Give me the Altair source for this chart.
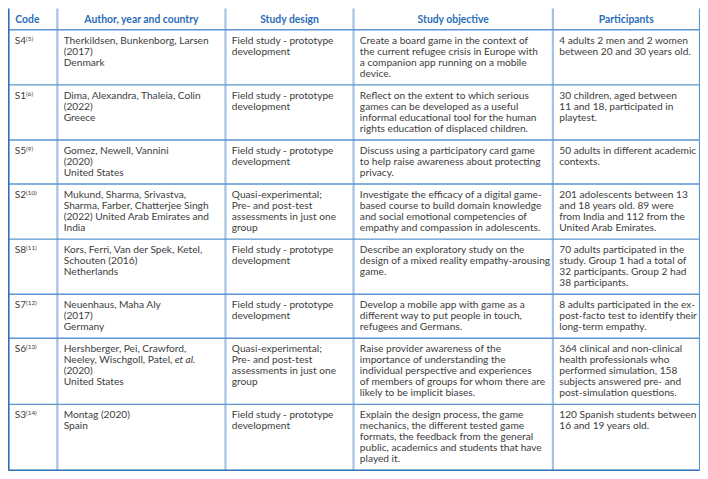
import altair as alt
import pandas as pd

# ---------------- data ----------------
headers = ["Code", "Author, year and country", "Study design", "Study objective", "Participants"]
codes = ["S4", "S1", "S5", "S2", "S8", "S7", "S6", "S3"]
refs = ["(5)", "(6)", "(9)", "(10)", "(11)", "(12)", "(13)", "(14)"]
authors = [
    ["Therkildsen, Bunkenborg, Larsen", "(2017)", "Denmark"],
    ["Dima, Alexandra, Thaleia, Colin", "(2022)", "Greece"],
    ["Gomez, Newell, Vannini", "(2020)", "United States"],
    ["Mukund, Sharma, Srivastva,", "Sharma, Farber, Chatterjee Singh", "(2022) United Arab Emirates and", "India"],
    ["Kors, Ferri, Van der Spek, Ketel,", "Schouten (2016)", "Netherlands"],
    ["Neuenhaus, Maha Aly", "(2017)", "Germany"],
    ["Hershberger, Pei, Crawford,", "Neeley, Wischgoll, Patel,", "(2020)", "United States"],
    ["Montag (2020)", "Spain"],
]
italic_notes = [(6, 1, "et al.")]  # (row, line, text)
field = ["Field study - prototype", "development"]
quasi = ["Quasi-experimental;", "Pre- and post-test", "assessments in just one", "group"]
designs = [field, field, field, quasi, field, field, quasi, field]
objectives = [
    ["Create a board game in the context of", "the current refugee crisis in Europe with", "a companion app running on a mobile", "device."],
    ["Reflect on the extent to which serious", "games can be developed as a useful", "informal educational tool for the human", "rights education of displaced children."],
    ["Discuss using a participatory card game", "to help raise awareness about protecting", "privacy."],
    ["Investigate the efficacy of a digital game-", "based course to build domain knowledge", "and social emotional competencies of", "empathy and compassion in adolescents."],
    ["Describe an exploratory study on the", "design of a mixed reality empathy-arousing", "game."],
    ["Develop a mobile app with game as a", "different way to put people in touch,", "refugees and Germans."],
    ["Raise provider awareness of the", "importance of understanding the", "individual perspective and experiences", "of members of groups for whom there are", "likely to be implicit biases."],
    ["Explain the design process, the game", "mechanics, the different tested game", "formats, the feedback from the general", "public, academics and students that have", "played it."],
]
participants = [
    ["4 adults 2 men and 2 women", "between 20 and 30 years old."],
    ["30 children, aged between", "11 and 18, participated in", "playtest."],
    ["50 adults in different academic", "contexts."],
    ["201 adolescents between 13", "and 18 years old. 89 were", "from India and 112 from the", "United Arab Emirates."],
    ["70 adults participated in the", "study. Group 1 had a total of", "32 participants. Group 2 had", "38 participants."],
    ["8 adults participated in the ex-", "post-facto test to identify their", "long-term empathy."],
    ["364 clinical and non-clinical", "health professionals who", "performed simulation, 158", "subjects answered pre- and", "post-simulation questions."],
    ["120 Spanish students between", "16 and 19 years old."],
]

# ---------------- layout ----------------
W_REF, H_REF = 708, 479
col_edges = [0, 50, 222, 353, 557, 707]
PAD = 6.5
HEADER_H = 22
LH = 11.4
scale_f = 692 / 708
FS = 10.4 * scale_f
FONT = "Lato"
TEXT_C = "#3d3d3d"
HEAD_C = "#2a6db8"

cells = [[[c] for c in codes], authors, designs, objectives, participants]
row_lines = [max(len(cells[c][r]) for c in range(5)) for r in range(len(codes))]
row_tops = [HEADER_H]
for n in row_lines:
    row_tops.append(row_tops[-1] + (n + 1) * LH)

text_rows = []
for c in range(5):
    for r in range(len(codes)):
        for k, line in enumerate(cells[c][r]):
            text_rows.append({"x": col_edges[c] + PAD, "y": row_tops[r] + LH * (k + 1), "t": line})
body = pd.DataFrame(text_rows)

head = pd.DataFrame([
    {"x": (col_edges[c] + col_edges[c + 1]) / 2 if c > 0 else col_edges[0] + PAD + 0.5,
     "y": HEADER_H / 2 + 0.5, "t": h, "a": "center" if c > 0 else "left"}
    for c, h in enumerate(headers)
])

sup = pd.DataFrame([
    {"x": col_edges[0] + PAD + 11.5, "y": row_tops[r] + LH - 2.2, "t": refs[r]} for r in range(len(codes))
])

ital = pd.DataFrame([
    {"x": col_edges[1] + PAD + 113.5, "y": row_tops[r] + LH * (k + 1), "t": t} for r, k, t in italic_notes
])

hlines = pd.DataFrame(
    [{"x": 0, "x2": col_edges[-1], "y": yy, "y2": yy} for yy in row_tops[:-1]]
)
vlines = pd.DataFrame(
    [{"x": xx, "x2": xx, "y": 0, "y2": row_tops[-1]} for xx in col_edges[1:-1]]
)
border_dark = pd.DataFrame([
    {"x": 0, "x2": 0, "y": 0, "y2": row_tops[-1]},
    {"x": 0, "x2": col_edges[-1], "y": row_tops[-1], "y2": row_tops[-1]},
])
border_right = pd.DataFrame([{"x": col_edges[-1], "x2": col_edges[-1], "y": 0, "y2": row_tops[-1]}])

xs = alt.Scale(domain=[-0.5, W_REF - 0.5], nice=False, zero=False)
ys = alt.Scale(domain=[H_REF - 0.5, -0.5], nice=False, zero=False)
X = alt.X("x:Q", scale=xs, axis=None)
Y = alt.Y("y:Q", scale=ys, axis=None)


def rules(df, color, width):
    return alt.Chart(df).mark_rule(color=color, strokeWidth=width).encode(
        x=X, x2="x2:Q", y=Y, y2="y2:Q"
    )


layers = [
    rules(vlines, "#a3c3e6", 2.2),
    rules(hlines, "#5d95cf", 1.4),
    rules(border_right, "#5d95cf", 1.2),
    rules(border_dark, "#2f6fb5", 2.2),
    alt.Chart(body).mark_text(align="left", baseline="middle", font=FONT, fontSize=FS, color=TEXT_C).encode(
        x=X, y=Y, text="t:N"),
    alt.Chart(sup).mark_text(align="left", baseline="middle", font=FONT, fontSize=FS * 0.62, color=TEXT_C).encode(
        x=X, y=Y, text="t:N"),
    alt.Chart(ital).mark_text(align="left", baseline="middle", font=FONT, fontSize=FS, fontStyle="italic",
                              color=TEXT_C).encode(x=X, y=Y, text="t:N"),
    alt.Chart(head[head.a == "left"]).mark_text(align="left", baseline="middle", font=FONT, fontSize=FS * 1.02,
                                               fontWeight="bold", color=HEAD_C).encode(x=X, y=Y, text="t:N"),
    alt.Chart(head[head.a == "center"]).mark_text(align="center", baseline="middle", font=FONT, fontSize=FS * 1.02,
                                                 fontWeight="bold", color=HEAD_C).encode(x=X, y=Y, text="t:N"),
]

chart = alt.layer(*layers).properties(
    width=692, height=463, padding=0, autosize=alt.AutoSizeParams(type="none")
).configure_view(stroke=None)

chart.save("out.html", embed_options={"renderer": "svg", "actions": False})
